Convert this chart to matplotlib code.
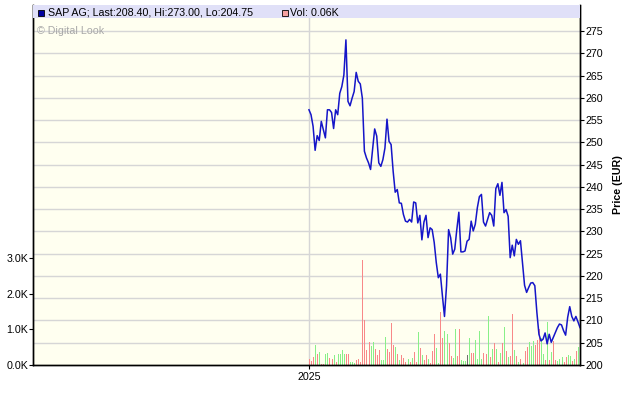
import numpy as np
import matplotlib.pyplot as plt
import matplotlib.transforms as mtransforms
from matplotlib.patches import Rectangle
from matplotlib.ticker import FuncFormatter

plt.rcParams['font.family'] = ['Liberation Sans', 'DejaVu Sans']
plt.rcParams['font.size'] = 7.7

# daily close (EUR)
price = [257.3, 256.2, 253.6, 248.2, 251.5, 250.4, 254.7, 252.8, 251.0, 257.3,
         257.3, 256.7, 253.1, 257.3, 256.2, 261.0, 262.5, 265.1, 273.0, 259.2,
         258.2, 259.9, 261.4, 265.7, 263.7, 263.1, 259.9, 248.0, 246.5, 245.4,
         243.9, 248.4, 253.0, 251.4, 245.4, 244.6, 246.1, 248.7, 255.2, 250.2,
         249.5, 243.5, 238.8, 239.4,
         236.4, 236.3, 233.8, 232.3, 232.1, 232.7, 232.1, 236.6, 236.4, 231.9,
         233.6, 228.1, 232.1, 233.6, 228.6, 230.8, 230.4, 227.5, 223.0, 219.6,
         220.4, 215.5, 210.9, 217.8, 230.4, 228.6, 224.9, 226.0, 230.4, 234.3,
         225.4, 225.4, 225.6, 227.8, 228.2, 232.3, 230.1, 231.6, 235.3, 237.8,
         238.3,
         232.1, 231.2, 232.7, 234.2, 233.6, 231.2, 239.6, 240.7, 238.1, 241.0,
         234.2, 234.9, 233.4, 224.1, 226.9, 224.5, 228.2, 227.1, 227.9, 223.0,
         217.9, 216.3, 217.4, 218.4, 218.5, 217.8, 211.8, 206.9, 205.4, 205.8,
         207.2, 204.75, 206.9, 205.1, 206.2, 207.3, 208.4, 209.2, 209.0, 207.7,
         206.7, 210.7, 213.1, 210.9, 209.9, 210.9, 209.7, 208.4]

# daily volume (thousands)
volume = [0.17, 0.11, 0.22, 0.55, 0.31, 0.36, 0.03, 0.03, 0.31, 0.34,
          0.20, 0.17, 0.27, 0.08, 0.31, 0.31, 0.42, 0.31, 0.31, 0.31,
          0.08, 0.08, 0.06, 0.14, 0.17, 0.08, 2.94, 1.25, 0.42, 0.64,
          0.53, 0.64, 0.45, 0.28, 0.42, 0.14, 0.14, 0.78, 0.45, 0.36,
          1.18, 0.56,
          0.50, 0.31, 0.14, 0.28, 0.20, 0.08, 0.17, 0.08, 0.20, 0.36,
          0.08, 0.92, 0.48, 0.28, 0.14, 0.28, 0.17, 0.06, 0.39, 0.87,
          0.48, 0.06, 1.48, 0.76, 0.95, 0.87, 0.62, 0.25, 0.20, 1.01,
          0.25, 1.01, 0.14, 0.11, 0.11, 0.28, 0.76, 0.34, 0.34, 0.70,
          0.17, 0.95, 0.17, 0.34, 0.31, 1.37,
          0.22, 0.45, 0.62, 0.45, 0.08, 0.34, 0.62, 1.06, 0.39, 0.22,
          0.25, 1.43, 0.42, 0.25, 0.08, 0.17, 0.06, 0.39, 0.50, 0.64,
          0.53, 0.67, 0.56, 0.70, 1.01, 0.76, 0.31, 0.14, 1.21, 0.14,
          0.36, 0.67, 0.14, 0.11, 0.17, 0.22, 0.08, 0.22, 0.28, 0.25,
          0.11, 0.17, 0.39, 0.50, 0.31]

# u = up day, d = down day, n = unchanged
direction = ("dddudu" "dduu" "ddud" "uuuu" "dd" "uuu" "ddddddd" "uu" "ddd" "uuu" "dddd"
             "ududd" "dudud" "dudud" "duddd" "uuddu" "udduu" "dduuu" "nuddu" "uuudd" "u"
             "dudud" "ududu" "ddudu" "duddu" "uuddd" "uudud" "udduu" "udduu" "dudud")

name = "SAP AG"
last, hi, lo = 208.40, 273.00, 204.75
vol_last = 0.06
year_label = "2025"
price_ticks = np.arange(200, 276, 5)
vol_ticks = [0, 1, 2, 3]

days = np.arange(len(price))
bar_colors = {'u': '#88f088', 'd': '#f88888', 'n': '#707070'}
colors = [bar_colors[c] for c in direction]

fig = plt.figure(figsize=(6.4, 4.01), dpi=100)
ax_v = fig.add_axes([33 / 640, 36 / 401, 547 / 640, 360 / 401])
ax_v.set_facecolor('#fffff0')
ax_p = ax_v.twinx()

ax_v.set_xlim(-134.4, 132)
ax_v.set_ylim(0, 10.08)
ax_p.set_ylim(200, 280.83)

# grid on the volume axes so bars sit above it
blend = mtransforms.blended_transform_factory(ax_v.transAxes, ax_p.transData)
ax_v.hlines(price_ticks[1:], 0, 1, transform=blend, color='#d6d6d6', lw=1, zorder=0.5)
ax_v.axvline(0, color='#d6d6d6', lw=1, zorder=0.5)

# one-pixel volume bars
ax_v.vlines(days, 0, volume, colors=colors, lw=0.72, antialiased=False, zorder=2)
ax_p.plot(days, price, color='#1515c8', lw=1.1, zorder=2)

ax_v.set_xticks([0])
ax_v.set_xticklabels([year_label])
ax_v.set_yticks(vol_ticks)
ax_v.yaxis.set_major_formatter(FuncFormatter(lambda v, p: "%.1fK" % v))
ax_p.set_yticks(price_ticks)
ax_v.tick_params(axis='y', length=3, pad=0.5, colors='black')
ax_v.tick_params(axis='x', length=3, pad=2, colors='black')
ax_p.tick_params(axis='y', length=3, pad=1, colors='black')
ax_p.set_ylabel("Price (EUR)", fontweight='bold', labelpad=7)

for a in (ax_v, ax_p):
    a.spines['top'].set_visible(False)
    for s in ('left', 'right', 'bottom'):
        a.spines[s].set_linewidth(1)

# legend strip
ax_p.add_patch(Rectangle((0, 1 - 13.3 / 360), 1, 13.3 / 360, transform=ax_p.transAxes,
                         facecolor='#e0e0f8', edgecolor='none', zorder=3, clip_on=False))
fig.add_artist(Rectangle((37.5 / 640, 1 - 16 / 401), 6 / 640, 6 / 401, transform=fig.transFigure,
                         facecolor='#0000a0', edgecolor='black', lw=0.6, zorder=4))
fig.add_artist(Rectangle((281.5 / 640, 1 - 16 / 401), 6 / 640, 6 / 401, transform=fig.transFigure,
                         facecolor='#f4a0a0', edgecolor='black', lw=0.6, zorder=4))
fig.text(48.5 / 640, 1 - 12.5 / 401,
         "%s; Last:%.2f, Hi:%.2f, Lo:%.2f" % (name, last, hi, lo),
         va='center', ha='left', zorder=5)
fig.text(289.5 / 640, 1 - 12.5 / 401, "Vol: %.2fK" % vol_last,
         va='center', ha='left', zorder=5)
fig.text(37 / 640, 1 - 31.5 / 401, "\u00a9 Digital Look", color='#a8a8a8',
         va='center', ha='left', zorder=5)

fig.savefig('out.png', dpi=100)
